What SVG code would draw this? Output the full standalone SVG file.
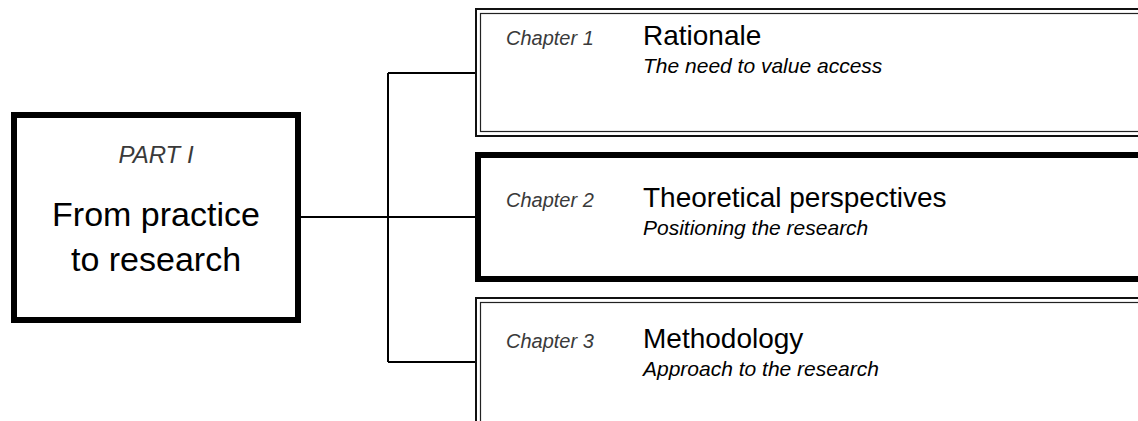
<svg xmlns="http://www.w3.org/2000/svg" width="1138" height="421" viewBox="0 0 1138 421">
<style>
.bg{fill:#fff}
.thick{fill:#fff;stroke:#000;stroke-width:6}
.dbl-o{fill:#fff;stroke:#111;stroke-width:2}
.dbl-i{fill:none;stroke:#222;stroke-width:1.2}
.conn{fill:none;stroke:#000;stroke-width:2}
.lab{font-family:"Liberation Sans",Arial,sans-serif;font-style:italic;fill:#3a3a3a}
.title{font-family:"Liberation Sans",Arial,sans-serif;fill:#000}
.sub{font-family:"Liberation Sans",Arial,sans-serif;font-style:italic;fill:#000}
</style>
<rect class="bg" x="0" y="0" width="1138" height="421"/>
<g id="connectors">
<path class="conn" d="M301,217 H477 M388,73 V362 M388,73 H477 M388,362 H477"/>
</g>
<g id="part1">
<rect class="thick" x="14" y="115" width="284" height="205"/>
<text class="lab" x="156" y="163" font-size="24" text-anchor="middle">PART I</text>
<text class="title" x="156" y="226" font-size="34" text-anchor="middle">From practice</text>
<text class="title" x="156" y="271" font-size="34" text-anchor="middle">to research</text>
</g>
<g id="chapter1">
<rect class="dbl-o" x="476" y="9" width="700" height="127"/>
<rect class="dbl-i" x="480.5" y="13.5" width="700" height="118"/>
<text class="lab" x="506" y="45" font-size="20">Chapter 1</text>
<text class="title" x="643" y="45" font-size="28">Rationale</text>
<text class="sub" x="643" y="73" font-size="21">The need to value access</text>
</g>
<g id="chapter2">
<rect class="thick" x="478" y="155" width="700" height="124"/>
<text class="lab" x="506" y="207" font-size="20">Chapter 2</text>
<text class="title" x="643" y="207" font-size="28">Theoretical perspectives</text>
<text class="sub" x="643" y="235" font-size="21">Positioning the research</text>
</g>
<g id="chapter3">
<rect class="dbl-o" x="476" y="298" width="700" height="200"/>
<rect class="dbl-i" x="480.5" y="302.5" width="700" height="200"/>
<text class="lab" x="506" y="348" font-size="20">Chapter 3</text>
<text class="title" x="643" y="348" font-size="28">Methodology</text>
<text class="sub" x="643" y="376" font-size="21">Approach to the research</text>
</g>
</svg>
